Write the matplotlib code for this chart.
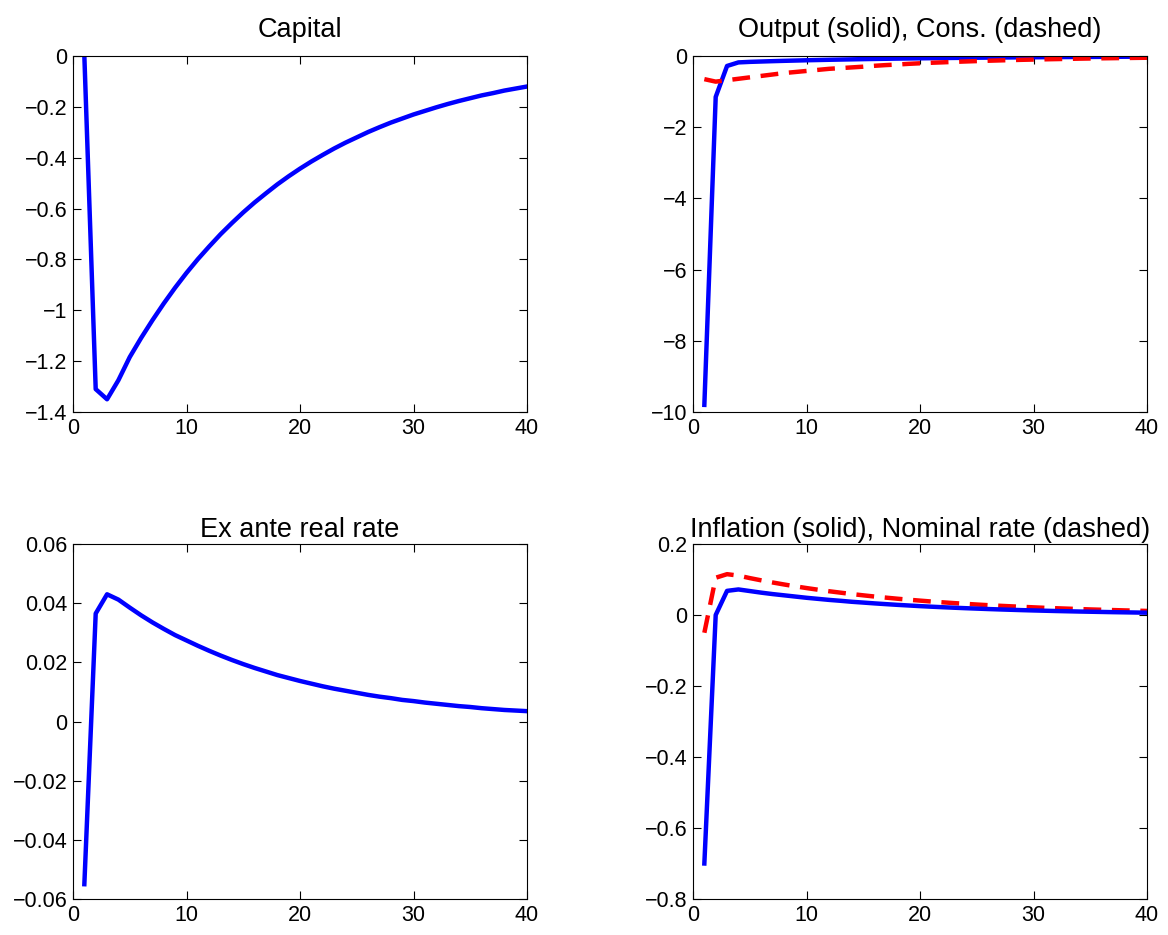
import matplotlib
matplotlib.use("Agg")
import matplotlib.pyplot as plt
from matplotlib.ticker import FuncFormatter, MultipleLocator
import numpy as np

plt.rcParams['font.family'] = ['Liberation Sans', 'DejaVu Sans']

periods = list(range(1, 41))

capital = [0.0, -1.31, -1.35, -1.275, -1.184, -1.109, -1.039, -0.973, -0.911, -0.853,
           -0.799, -0.749, -0.701, -0.657, -0.615, -0.576, -0.540, -0.505, -0.473, -0.443,
           -0.415, -0.389, -0.364, -0.341, -0.320, -0.299, -0.280, -0.262, -0.246, -0.230,
           -0.216, -0.202, -0.189, -0.177, -0.166, -0.155, -0.146, -0.136, -0.128, -0.120]

output = [-9.8, -1.15, -0.28, -0.18, -0.165, -0.155, -0.145, -0.136, -0.128, -0.120,
          -0.113, -0.106, -0.100, -0.094, -0.088, -0.083, -0.078, -0.073, -0.069, -0.065,
          -0.061, -0.057, -0.054, -0.051, -0.048, -0.045, -0.042, -0.040, -0.037, -0.035,
          -0.033, -0.031, -0.029, -0.027, -0.026, -0.024, -0.023, -0.021, -0.020, -0.019]

consumption = [-0.65, -0.72, -0.68, -0.64, -0.60, -0.56, -0.52, -0.48, -0.45, -0.42,
               -0.39, -0.36, -0.34, -0.32, -0.30, -0.275, -0.255, -0.24, -0.22, -0.205,
               -0.19, -0.178, -0.165, -0.154, -0.143, -0.133, -0.124, -0.115, -0.107, -0.100,
               -0.093, -0.087, -0.081, -0.075, -0.070, -0.065, -0.061, -0.057, -0.053, -0.049]

real_rate = [-0.055, 0.0365, 0.043, 0.0412, 0.0385, 0.0359, 0.0335, 0.0313, 0.0292, 0.0274,
             0.0256, 0.0239, 0.0223, 0.0208, 0.0194, 0.0181, 0.0169, 0.0157, 0.0147, 0.0137,
             0.0128, 0.0119, 0.0111, 0.0104, 0.0097, 0.0090, 0.0084, 0.0079, 0.0073, 0.0069,
             0.0064, 0.0060, 0.0056, 0.0052, 0.0049, 0.0045, 0.0042, 0.0039, 0.0037, 0.0035]

inflation = [-0.70, 0.0, 0.068, 0.072, 0.0675, 0.063, 0.059, 0.0555, 0.052, 0.0485,
             0.0455, 0.0425, 0.040, 0.0372, 0.035, 0.0327, 0.0306, 0.0286, 0.0268, 0.025,
             0.0234, 0.0219, 0.0205, 0.0192, 0.018, 0.0168, 0.0157, 0.0147, 0.0137, 0.0128,
             0.012, 0.0112, 0.0105, 0.0098, 0.0092, 0.0086, 0.008, 0.0075, 0.007, 0.0065]

nominal = [-0.05, 0.105, 0.115, 0.111, 0.104, 0.0977, 0.0917, 0.0861, 0.0808, 0.0759,
           0.0713, 0.0669, 0.0629, 0.059, 0.0554, 0.052, 0.0489, 0.0459, 0.0431, 0.0405,
           0.038, 0.0357, 0.0335, 0.0315, 0.0295, 0.0277, 0.026, 0.0245, 0.023, 0.0216,
           0.0202, 0.019, 0.0179, 0.0168, 0.0157, 0.0148, 0.0139, 0.013, 0.0122, 0.0115]

titles = ["Capital", "Output (solid), Cons. (dashed)",
          "Ex ante real rate", "Inflation (solid), Nominal rate (dashed)"]

W, H = 1168, 935
fig = plt.figure(figsize=(W / 100, H / 100), dpi=100)

def ax_at(l, r, t, b):
    return fig.add_axes([l / W, 1 - b / H, (r - l) / W, (b - t) / H])

axes = [ax_at(73, 527, 56, 412), ax_at(693, 1147, 56, 412),
        ax_at(73, 527, 544, 899), ax_at(693, 1147, 544, 899)]

blue = '#0000ff'
red = '#ff0000'
lw = 3.2

axes[0].plot(periods, capital, color=blue, lw=lw)
axes[0].set_ylim(-1.4, 0)
axes[0].yaxis.set_major_locator(MultipleLocator(0.2))

axes[1].plot(periods, output, color=blue, lw=lw)
axes[1].plot(periods, consumption, color=red, lw=lw, dashes=(4, 2.4))
axes[1].set_ylim(-10, 0)
axes[1].yaxis.set_major_locator(MultipleLocator(2))

axes[2].plot(periods, real_rate, color=blue, lw=lw)
axes[2].set_ylim(-0.06, 0.06)
axes[2].yaxis.set_major_locator(MultipleLocator(0.02))

axes[3].plot(periods, nominal, color=red, lw=lw, dashes=(4, 2.4))
axes[3].plot(periods, inflation, color=blue, lw=lw)
axes[3].set_ylim(-0.8, 0.2)
axes[3].yaxis.set_major_locator(MultipleLocator(0.2))

fmt = FuncFormatter(lambda v, p: ('%g' % round(v, 6)).replace('-', '\u2212'))
pads = [14, 14, 5, 5]
for ax, t, pd in zip(axes, titles, pads):
    ax.set_xlim(0, 40)
    ax.xaxis.set_major_locator(MultipleLocator(10))
    ax.yaxis.set_major_formatter(fmt)
    ax.tick_params(direction='in', top=True, right=True, labelsize=15.5,
                   length=6, width=0.8, pad=4)
    for s in ax.spines.values():
        s.set_linewidth(0.8)
    ax.set_title(t, fontsize=19.5, pad=pd)

fig.savefig("out.png", dpi=100)
